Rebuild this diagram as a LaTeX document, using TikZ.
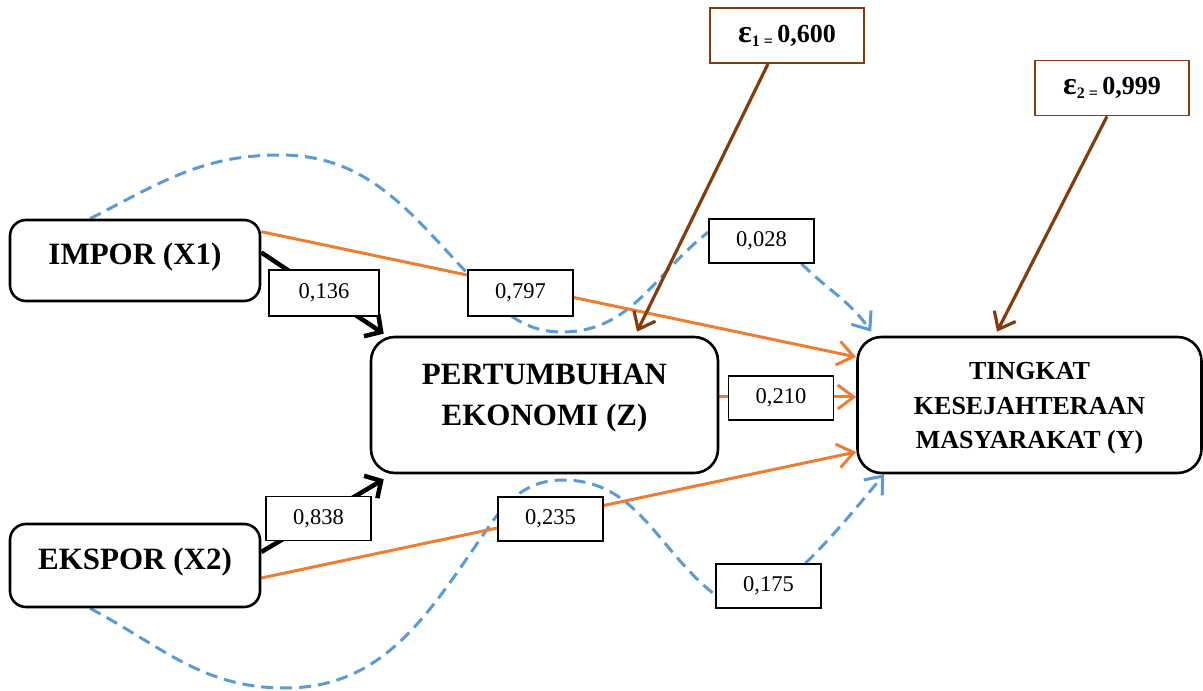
\documentclass[tikz,border=0pt]{standalone}
\usepackage{fontspec}
\setmainfont{Liberation Serif}
\usetikzlibrary{arrows.meta,backgrounds}
\definecolor{orng}{HTML}{ED7D31}
\definecolor{blu}{HTML}{5B9BD5}
\definecolor{brwn}{HTML}{843C0C}
\newcommand{\shiftedtext}[2]{\raisebox{#1}[0pt][0pt]{\begin{tabular}[b]{@{}c@{}}#2\end{tabular}}}
\begin{document}
\begin{tikzpicture}[x=1pt,y=1pt,
  mainbox/.style={draw, line width=2.6pt, fill=white, inner sep=0pt, font=\fontsize{31}{41}\selectfont\bfseries},
  lbl/.style={draw, fill=white, line width=1.4pt, minimum width=105pt, minimum height=44pt, inner sep=0pt, font=\fontsize{22.5}{26}\selectfont},
  ebox/.style={draw=brwn, fill=white, line width=1.8pt, minimum width=154pt, minimum height=55pt, inner sep=0pt, font=\fontsize{26}{30}\selectfont\bfseries},
  blk/.style={line width=4.5pt, -{Straight Barb[length=12pt,width=26pt]}},
  org/.style={draw=orng, line width=3pt, -{Straight Barb[length=16pt,width=24pt]}},
  brn/.style={draw=brwn, line width=3.2pt, -{Straight Barb[length=15pt,width=24pt]}},
  bld/.style={draw=blu, line width=3pt, dash pattern=on 12pt off 7pt},
  bla/.style={bld, -{Straight Barb[length=15pt,width=24pt]}}
]
\useasboundingbox (0,0) rectangle (1203,691);

% main boxes
\node[mainbox, rounded corners=16pt, minimum width=250pt, minimum height=81pt] (imp) at (135,430.5) {\shiftedtext{-4.5pt}{IMPOR (X1)}};
\node[mainbox, rounded corners=16pt, minimum width=250pt, minimum height=83pt] (eks) at (135,125.5) {\shiftedtext{-4.5pt}{EKSPOR (X2)}};
\node[mainbox, rounded corners=24pt, minimum width=347pt, minimum height=136pt] (pe) at (544.5,286) {\shiftedtext{-21pt}{PERTUMBUHAN\\EKONOMI (Z)}};
\node[mainbox, rounded corners=24pt, minimum width=344pt, minimum height=136pt, font=\fontsize{26}{34.5}\selectfont\bfseries] (tk) at (1029.5,286) {\shiftedtext{-44pt}{TINGKAT\\KESEJAHTERAAN\\MASYARAKAT (Y)}};

% error boxes
\node[ebox] (e1) at (787,655.5) {{\fontsize{32}{32}\selectfont ε}{\fontsize{16}{16}\selectfont\raisebox{-4pt}{1 =}}\,0,600};
\node[ebox] (e2) at (1112,603) {{\fontsize{32}{32}\selectfont ε}{\fontsize{16}{16}\selectfont\raisebox{-4pt}{2 =}}\,0,999};

% label boxes
\node[lbl, minimum width=110pt, minimum height=46pt] (l136) at (324,398) {0,136};
\node[lbl, minimum height=46pt] (l797) at (520.5,398) {0,797};
\node[lbl] (l028) at (761.5,450) {0,028};
\node[lbl] (l210) at (781,293) {0,210};
\node[lbl] (l838) at (318.5,172.5) {0,838};
\node[lbl] (l235) at (550.5,172) {0,235};
\node[lbl] (l175) at (768.5,105) {0,175};

\coordinate (u1) at (280,536);
\coordinate (u2) at (467,418);
\coordinate (u3) at (562,359);
\coordinate (d1) at (285,3);
\coordinate (d2) at (490,166);
\coordinate (d3) at (563,211);

\begin{pgfonlayer}{background}
% dashed blue paths
\draw[bld] ([xshift=-45pt]imp.north) to[out=27,in=180] (u1) to[out=0,in=133] (u2) to[out=-47,in=180] (u3) to[out=0,in=218] ([yshift=9pt]l028.west);
\draw[bld] ([xshift=-45pt]eks.south) to[out=-28,in=180] (d1) to[out=0,in=-125] (d2) to[out=55,in=180] (d3) to[out=0,in=142] ([yshift=-9pt]l175.west);
\draw[bla] ([xshift=40pt]l028.south) to[out=-45,in=125] ([xshift=15pt,yshift=4pt]tk.north west);
\draw[bla] ([xshift=37pt]l175.north) to[out=45,in=-130] ([xshift=28pt]tk.south west);

% black arrows
\draw[blk] ([yshift=8pt]imp.east) -- ([xshift=14pt,yshift=2pt]pe.north west);
\draw[blk] ([yshift=13.5pt]eks.east) -- ([xshift=14pt,yshift=-5pt]pe.south west);

% orange arrows
\draw[org] ([yshift=-13pt]imp.north east) -- ([yshift=48pt]tk.west);
\draw[org] ([yshift=8pt]pe.east) -- ([yshift=8pt]tk.west);
\draw[org] ([yshift=-12.5pt]eks.east) -- ([yshift=-47pt]tk.west);

% brown arrows
\draw[brn] ([xshift=-19pt]e1.south) -- ([xshift=92.5pt,yshift=4pt]pe.north);
\draw[brn] ([xshift=-5pt]e2.south) -- ([xshift=-32.5pt,yshift=4pt]tk.north);
\end{pgfonlayer}
\end{tikzpicture}
\end{document}
